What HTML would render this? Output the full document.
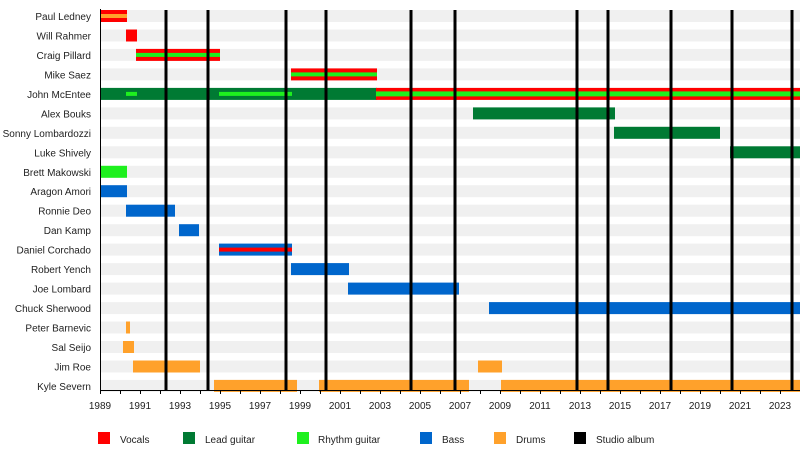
<!DOCTYPE html>
<html><head><meta charset="utf-8"><style>body{margin:0;background:#fff}svg{display:block}text{font-family:"Liberation Sans",sans-serif;font-size:10px;fill:#222}</style></head>
<body>
<svg width="800" height="450" xmlns="http://www.w3.org/2000/svg">
<g fill="#f0f0f0">
<rect x="100" y="10" width="700" height="12"/><rect x="100" y="29.5" width="700" height="12"/><rect x="100" y="48.9" width="700" height="12"/><rect x="100" y="68.4" width="700" height="12"/><rect x="100" y="87.9" width="700" height="12"/><rect x="100" y="107.4" width="700" height="12"/><rect x="100" y="126.8" width="700" height="12"/><rect x="100" y="146.3" width="700" height="12"/><rect x="100" y="165.8" width="700" height="12"/><rect x="100" y="185.2" width="700" height="12"/><rect x="100" y="204.7" width="700" height="12"/><rect x="100" y="224.2" width="700" height="12"/><rect x="100" y="243.6" width="700" height="12"/><rect x="100" y="263.1" width="700" height="12"/><rect x="100" y="282.6" width="700" height="12"/><rect x="100" y="302.1" width="700" height="12"/><rect x="100" y="321.5" width="700" height="12"/><rect x="100" y="341" width="700" height="12"/><rect x="100" y="360.5" width="700" height="12"/><rect x="100" y="379.9" width="700" height="12"/>
</g>
<g text-anchor="end">
<text x="91" y="20">Paul Ledney</text><text x="91" y="39.5">Will Rahmer</text><text x="91" y="58.9">Craig Pillard</text><text x="91" y="78.4">Mike Saez</text><text x="91" y="97.9">John McEntee</text><text x="91" y="117.4">Alex Bouks</text><text x="91" y="136.8">Sonny Lombardozzi</text><text x="91" y="156.3">Luke Shively</text><text x="91" y="175.8">Brett Makowski</text><text x="91" y="195.2">Aragon Amori</text><text x="91" y="214.7">Ronnie Deo</text><text x="91" y="234.2">Dan Kamp</text><text x="91" y="253.6">Daniel Corchado</text><text x="91" y="273.1">Robert Yench</text><text x="91" y="292.6">Joe Lombard</text><text x="91" y="312.1">Chuck Sherwood</text><text x="91" y="331.5">Peter Barnevic</text><text x="91" y="351">Sal Seijo</text><text x="91" y="370.5">Jim Roe</text><text x="91" y="389.9">Kyle Severn</text>
</g>
<rect x="100" y="10" width="27" height="12" fill="#f00"/><rect x="100" y="14" width="27" height="4" fill="#ffa12b"/>
<rect x="126" y="29.5" width="11" height="12" fill="#f00"/>
<rect x="136" y="48.9" width="84" height="12" fill="#f00"/><rect x="136" y="52.9" width="84" height="4" fill="#1ef01e"/>
<rect x="291" y="68.4" width="86" height="12" fill="#f00"/><rect x="291" y="72.4" width="86" height="4" fill="#1ef01e"/>
<rect x="100" y="87.9" width="277" height="12" fill="#007a33"/>
<rect x="126" y="91.9" width="11" height="4" fill="#1ef01e"/><rect x="219" y="91.9" width="73" height="4" fill="#1ef01e"/>
<rect x="376" y="87.9" width="424" height="12" fill="#f00"/><rect x="376" y="91.4" width="424" height="5" fill="#1ef01e"/>
<rect x="473" y="107.4" width="142" height="12" fill="#007a33"/>
<rect x="614" y="126.8" width="106" height="12" fill="#007a33"/>
<rect x="730" y="146.3" width="70" height="12" fill="#007a33"/>
<rect x="100" y="165.8" width="27" height="12" fill="#1ef01e"/>
<rect x="100" y="185.2" width="27" height="12" fill="#0066cc"/>
<rect x="126" y="204.7" width="49" height="12" fill="#0066cc"/>
<rect x="179" y="224.2" width="20" height="12" fill="#0066cc"/>
<rect x="219" y="243.6" width="73" height="12" fill="#0066cc"/><rect x="219" y="247.6" width="73" height="4" fill="#f00"/>
<rect x="291" y="263.1" width="58" height="12" fill="#0066cc"/>
<rect x="348" y="282.6" width="111" height="12" fill="#0066cc"/>
<rect x="489" y="302.1" width="311" height="12" fill="#0066cc"/>
<g fill="#ffa12b">
<rect x="126" y="321.5" width="4" height="12"/>
<rect x="123" y="341" width="11" height="12"/>
<rect x="133" y="360.5" width="67" height="12"/><rect x="478" y="360.5" width="24" height="12"/>
<rect x="214" y="379.9" width="83" height="12"/><rect x="319" y="379.9" width="150" height="12"/><rect x="501" y="379.9" width="299" height="12"/>
</g>
<g stroke="#000" stroke-width="3">
<line x1="166" y1="10" x2="166" y2="390"/><line x1="208" y1="10" x2="208" y2="390"/><line x1="286" y1="10" x2="286" y2="390"/><line x1="326" y1="10" x2="326" y2="390"/><line x1="411" y1="10" x2="411" y2="390"/><line x1="455" y1="10" x2="455" y2="390"/><line x1="577" y1="10" x2="577" y2="390"/><line x1="608" y1="10" x2="608" y2="390"/><line x1="671" y1="10" x2="671" y2="390"/><line x1="732" y1="10" x2="732" y2="390"/><line x1="792" y1="10" x2="792" y2="390"/>
</g>
<g stroke="#000" stroke-width="1">
<line x1="100.5" y1="9" x2="100.5" y2="391"/><line x1="100" y1="390.5" x2="800" y2="390.5"/>
<path d="M120.5 390v4M140.5 390v4M160.5 390v4M180.5 390v4M200.5 390v4M220.5 390v4M240.5 390v4M260.5 390v4M280.5 390v4M300.5 390v4M320.5 390v4M340.5 390v4M360.5 390v4M380.5 390v4M400.5 390v4M420.5 390v4M440.5 390v4M460.5 390v4M480.5 390v4M500.5 390v4M520.5 390v4M540.5 390v4M560.5 390v4M580.5 390v4M600.5 390v4M620.5 390v4M640.5 390v4M660.5 390v4M680.5 390v4M700.5 390v4M720.5 390v4M740.5 390v4M760.5 390v4M780.5 390v4M100.5 390v4"/>
</g>
<g text-anchor="middle">
<text x="100" y="409">1989</text><text x="140" y="409">1991</text><text x="180" y="409">1993</text><text x="220" y="409">1995</text><text x="260" y="409">1997</text><text x="300" y="409">1999</text><text x="340" y="409">2001</text><text x="380" y="409">2003</text><text x="420" y="409">2005</text><text x="460" y="409">2007</text><text x="500" y="409">2009</text><text x="540" y="409">2011</text><text x="580" y="409">2013</text><text x="620" y="409">2015</text><text x="660" y="409">2017</text><text x="700" y="409">2019</text><text x="740" y="409">2021</text><text x="780" y="409">2023</text>
</g>
<rect x="98" y="432" width="12" height="12" fill="#f00"/><text x="120" y="443">Vocals</text>
<rect x="183" y="432" width="12" height="12" fill="#007a33"/><text x="205" y="443">Lead guitar</text>
<rect x="297" y="432" width="12" height="12" fill="#1ef01e"/><text x="318" y="443">Rhythm guitar</text>
<rect x="420" y="432" width="12" height="12" fill="#0066cc"/><text x="442" y="443">Bass</text>
<rect x="494" y="432" width="12" height="12" fill="#ffa12b"/><text x="516" y="443">Drums</text>
<rect x="574" y="432" width="12" height="12" fill="#000"/><text x="596" y="443">Studio album</text>
</svg>
</body></html>
